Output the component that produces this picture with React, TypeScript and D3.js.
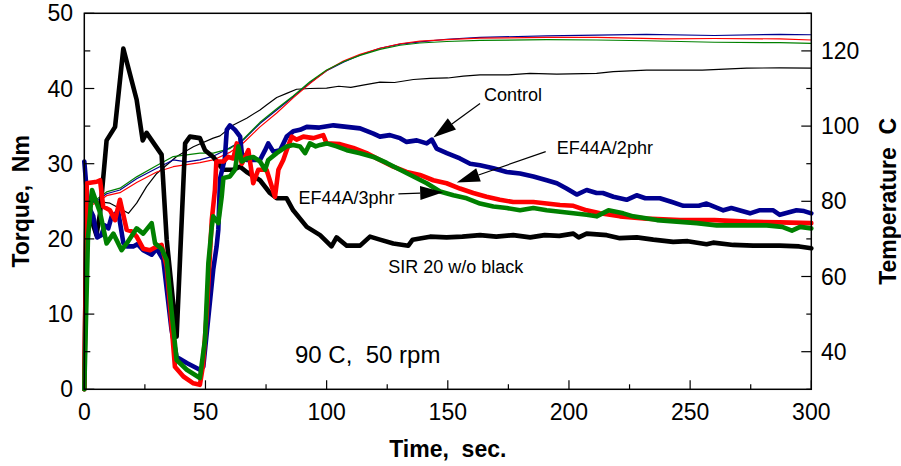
import React from "react";
import * as d3 from "d3";

// ---- data: [time (s), value] ----
const timeTicks = [0, 50, 100, 150, 200, 250, 300];
const torqueTicks = [0, 10, 20, 30, 40, 50];
const tempTicks = [40, 60, 80, 100, 120];

// Torque (Nm), thick lines
const torqueSIR: [number, number][] = [
  [0, 0], [1, 26], [3, 22.5], [5, 20.5], [6.5, 23.4], [9.2, 33.1], [12.7, 34.9], [16.1, 45.3],
  [21.6, 38.5], [24.1, 33.1], [25.7, 34.1], [31.9, 31.2], [34, 19.9], [38.1, 7.0], [40.2, 22.5],
  [41.6, 32.7], [43.6, 33.6], [47.7, 33.4], [49.8, 31.8], [53.2, 30.9], [57.3, 29.2], [61.5, 29.2],
  [64.3, 29.6], [67, 28.9], [72.5, 27.8], [76.6, 26.1], [79.4, 25.4], [83.5, 25.4], [86.2, 23.8],
  [91.8, 21.6], [97.3, 20.5], [102, 19.0], [104.1, 20.2], [108.3, 19.1], [113.8, 19.1], [117.9, 20.3],
  [122, 19.9], [127.5, 19.4], [133.7, 19.1], [135.5, 19.9], [142.7, 20.3], [149.5, 20.2], [156, 20.3],
  [163.3, 20.5], [170, 20.3], [177, 20.5], [184, 20.2], [190, 20.5], [196, 20.4], [201.8, 20.7],
  [204, 20.2], [207.3, 20.7], [215.6, 20.5], [221, 20.1], [228, 20.2], [234.8, 19.9], [243, 19.6],
  [249, 19.7], [256.8, 19.3], [259.5, 19.5], [267.8, 19.2], [276, 19.1], [287, 19.1], [295, 19.0],
  [300, 18.75],
];
const torqueControl: [number, number][] = [
  [0, 30.3], [1.5, 24.5], [3.7, 23], [5.3, 20.2], [7, 20.5], [8.5, 21.8], [9.9, 21.4], [11.3, 23],
  [14, 23.6], [16.1, 19.5], [17.5, 19.0], [20.2, 19.0], [22, 19.3], [24.3, 18.5], [27.8, 17.9],
  [29.9, 18.7], [32.6, 17.2], [36, 7.9], [38.1, 4.3], [42.3, 3.5], [47.7, 2.6], [49.1, 3.0],
  [53.2, 15.9], [54.6, 19.0], [55.3, 21.2], [56, 28], [58, 30.7], [58.8, 34.5], [60.1, 35.1],
  [62.2, 34.5], [64.3, 33.6], [65, 31.4], [67, 30.5], [72.5, 30.5], [74.6, 31.8], [75.9, 32.7],
  [78, 31.6], [80.8, 31.8], [83.5, 33.6], [86.2, 34.3], [89, 34.5], [91.8, 34.9], [97, 34.8],
  [102.8, 35.1], [108.3, 34.9], [113.8, 34.7], [119.3, 34.0], [122, 33.6], [126.1, 33.8],
  [130.3, 33.4], [133, 32.9], [137.2, 33.1], [141.3, 32.7], [143.4, 33.2], [145.4, 32.0],
  [149.6, 31.4], [155, 30.7], [159.2, 30.0], [163.3, 29.8], [168.8, 29.4], [174.3, 28.9],
  [179.8, 28.7], [185.3, 28.3], [190.8, 27.8], [195, 27.4], [199, 26.7], [203.2, 25.9],
  [207.3, 26.5], [211.4, 26.1], [214, 26.1], [218.3, 25.6], [223.8, 25.2], [227.9, 25.8],
  [231.5, 25.4], [237.5, 25.4], [242.5, 24.9], [247.2, 24.4], [253.6, 24.4], [256.8, 24.7],
  [263.7, 23.8], [267, 24.1], [274.7, 23.4], [278.5, 23.8], [284.3, 23.8], [287, 23.2],
  [293.9, 23.8], [297, 23.7], [300, 23.4],
];
const torqueEF2: [number, number][] = [
  [0, 0], [1, 27.4], [5.1, 27.6], [6.5, 27.8], [7.8, 24.3], [10.6, 23.8], [12.7, 22.5], [14.7, 25.2],
  [17.5, 21.2], [19.6, 21.0], [21.6, 20.3], [24.3, 18.7], [27.1, 18.5], [29.9, 19.0], [31.9, 19.2],
  [34, 16.3], [35.4, 11], [37.4, 3.0], [40.9, 1.7], [45, 0.8], [47.7, 0.6], [48.9, 3], [50.5, 10],
  [52.6, 22.5], [53.9, 26.5], [54.5, 30.3], [57.4, 30.3], [59.4, 30.9], [61.5, 30.7], [62.9, 32.7],
  [65, 30.0], [67.7, 31.8], [69.7, 27.4], [71.8, 29.2], [75.2, 29.2], [78.7, 25.6], [80.1, 29.2],
  [82.1, 30.5], [83.5, 31.8], [85.6, 33.6], [87.6, 33.2], [90.4, 33.6], [94.5, 33.4], [98.6, 33.8],
  [100, 32.7], [105.5, 32.6], [111, 32.1], [116.5, 31.4], [122, 30.5], [127.5, 29.6], [133, 28.9],
  [138.5, 28.5], [144, 27.8], [149.5, 27.4], [155, 26.7], [160.5, 26.1], [166, 25.6], [171.5, 25.2],
  [177, 24.9], [185.3, 24.9], [190.8, 24.7], [196.3, 24.5], [201.8, 24.4], [207.3, 23.8],
  [212.8, 23.4], [221, 23.0], [232, 22.7], [245.8, 22.5], [260, 22.5], [273.3, 22.3], [287, 22.2],
  [300, 22.1],
];
const torqueEF3: [number, number][] = [
  [0, 0], [1.5, 20], [3.2, 26.5], [6.5, 23.5], [9.2, 19.4], [12, 20.7], [15.4, 18.5], [17.5, 19.4],
  [21.6, 21.4], [24.3, 20.7], [27.8, 22.1], [29.2, 19.4], [31.9, 18.7], [34, 17.2], [36.1, 10.1],
  [38.1, 3.9], [42.3, 2.6], [47.7, 1.5], [49.8, 6.6], [51.2, 16.8], [52.6, 21.6], [53.2, 23],
  [55.3, 22.1], [56.7, 25.6], [57.4, 28.1], [60.1, 28.3], [62.2, 29.2], [63.6, 32.3], [65, 30.3],
  [67, 30.7], [69.7, 30.9], [72.5, 30.3], [74.6, 29.2], [75.9, 30.5], [79.4, 31.4], [83.5, 32.3],
  [86.2, 32.5], [89, 32.3], [91.1, 31.4], [93.1, 32.7], [95.5, 32.3], [97.3, 32.5], [100, 32.7],
  [104.1, 32.3], [108.3, 31.8], [113.8, 31.4], [119.3, 30.9], [124.8, 30.1], [130.3, 29.2],
  [135.8, 28.3], [141.3, 27.4], [146.8, 26.3], [152.3, 25.8], [157.8, 25.4], [163.3, 24.7],
  [168.8, 24.3], [174.3, 24.1], [179.8, 23.8], [185.3, 24.1], [190.8, 23.8], [196.3, 23.6],
  [201.8, 23.4], [207.3, 23.2], [211.4, 23.0], [216.3, 23.8], [222.4, 23.4], [226.5, 23.0],
  [236.3, 22.5], [244.5, 22.3], [252.8, 22.1], [261, 21.8], [272, 21.8], [281.6, 21.8], [288, 21.6],
  [292, 21.1], [295.4, 21.6], [300, 21.4],
];

// Temperature (C), thin lines
const tempSIR: [number, number][] = [
  [0, 79], [5, 80], [10.6, 79.5], [14.7, 78.1], [18.2, 76.8], [21.6, 79.5], [25.7, 83.9], [29.9, 87.4],
  [38.1, 91.9], [45, 94.5], [53.2, 96.8], [56, 97.4], [61.5, 100.3], [67, 102.1], [72.5, 104.3],
  [75.2, 105.6], [79.4, 107.6], [83.5, 108.7], [87.6, 109.8], [93, 110], [100, 110.1], [105, 110.6],
  [110, 110.3], [115, 110.9], [122, 111.7], [128, 111.6], [135.8, 112.4], [142.7, 112.7], [150, 112.8],
  [156.4, 113.3], [163.3, 113.6], [175, 113.6], [183.9, 114.0], [195, 113.8], [211.4, 114.0],
  [218.3, 114.5], [232, 114.9], [255, 114.9], [273.3, 115.4], [287, 115.5], [300, 115.4],
];
const tempControl: [number, number][] = [
  [0, 79], [3, 80], [5.1, 80], [9.2, 82], [14.7, 83], [21.6, 86], [29.9, 88.8], [36.7, 91],
  [42.3, 90.5], [47.7, 91], [53.2, 92], [58, 93.5], [65.6, 96.3], [72.5, 100.7], [79.4, 104.3],
  [86.2, 107.8], [93.1, 111.5], [100, 114.7], [106.9, 117], [113.8, 118.9], [122, 120.7],
  [130.3, 121.8], [138.5, 122.4], [149.5, 123.1], [163.3, 123.6], [190.8, 124.0], [211.4, 124.2],
  [232, 124.4], [260, 124.1], [287, 124.4], [300, 124.3],
];
const tempEF2: [number, number][] = [
  [0, 78.5], [5, 79.5], [9.2, 81.5], [14.7, 82.3], [21.6, 85], [29.9, 87.8], [36.7, 89.2],
  [47.7, 90.3], [53.2, 91], [60, 93], [65.6, 95.5], [72.5, 99.8], [79.4, 103.5], [86.2, 107.5],
  [93.1, 111.3], [100, 114.8], [106.9, 117.3], [113.8, 119.1], [122, 120.7], [130.3, 121.9],
  [138.5, 122.6], [149.5, 123.0], [163.3, 123.4], [190.8, 123.6], [211.4, 123.6], [240, 123.2],
  [260, 123.3], [287, 123.2], [300, 122.9],
];
const tempEF3: [number, number][] = [
  [0, 79.5], [5, 80.5], [9.2, 82.5], [14.7, 83.5], [21.6, 86.5], [29.9, 89.5], [36.7, 91.9],
  [47.7, 92.8], [53.2, 92.8], [60, 94], [65.6, 96.5], [72.5, 101], [79.4, 104.6], [86.2, 108],
  [93.1, 111.8], [100, 114.9], [106.9, 117.1], [113.8, 118.8], [122, 120.4], [130.3, 121.5],
  [138.5, 122.1], [149.5, 122.5], [163.3, 122.8], [190.8, 123.0], [211.4, 122.9], [232, 122.7],
  [260, 122.3], [287, 122.2], [300, 122.0],
];

const BLACK = "#000000";
const BLUE = "#000090";
const RED = "#ff0000";
const GREEN = "#008000";

const FONT = "'Liberation Sans', Arial, sans-serif";

const W = 901;
const H = 466;
const x = d3.scaleLinear().domain([0, 300]).range([84.3, 811.3]);
const yL = d3.scaleLinear().domain([0, 50]).range([389.3, 13.3]);
const yR = d3.scaleLinear().domain([30, 130]).range([389.3, 13.3]);

const torqueLine = d3.line<[number, number]>().x((d) => x(d[0])).y((d) => yL(d[1]));
const tempLine = d3.line<[number, number]>().x((d) => x(d[0])).y((d) => yR(d[1]));

// annotations in data coordinates (time, torque)
const arrows: { from: [number, number]; to: [number, number] }[] = [
  { from: [163.3, 38.0], to: [144.0, 33.5] },
  { from: [190.4, 31.6], to: [153.7, 27.5] },
  { from: [129.6, 26.0], to: [148.1, 26.2] },
];
const labels: { text: string; at: [number, number] }[] = [
  { text: "Control", at: [164.9, 38.4] },
  { text: "EF44A/2phr", at: [195.0, 31.3] },
  { text: "EF44A/3phr", at: [88.4, 24.6] },
  { text: "SIR 20 w/o black", at: [125.4, 15.4] },
];

const pre = { whiteSpace: "pre" as const };

function Arrow({ from, to }: { from: [number, number]; to: [number, number] }) {
  const x1 = x(from[0]), y1 = yL(from[1]);
  const x2 = x(to[0]), y2 = yL(to[1]);
  const dx = x2 - x1, dy = y2 - y1;
  const len = Math.hypot(dx, dy);
  const ux = dx / len, uy = dy / len;
  const hl = 23, hw = 7;
  const bx = x2 - ux * hl, by = y2 - uy * hl;
  const pts = [
    [x2, y2],
    [bx - uy * hw, by + ux * hw],
    [bx + uy * hw, by - ux * hw],
  ];
  return (
    <g>
      <line x1={x1} y1={y1} x2={bx} y2={by} stroke="#000" strokeWidth={1.2} />
      <polygon points={pts.map((p) => p.join(",")).join(" ")} fill="#000" />
    </g>
  );
}

export default function App() {
  const left = x(0), right = x(300), top = yL(50), bottom = yL(0);
  const xMinor = d3.range(0, 301, 25);
  const yMinor = d3.range(0, 51, 5);
  const rMinor = d3.range(30, 131, 10);
  return (
    <svg width={W} height={H} style={{ position: "absolute", left: 0, top: 0, background: "#fff" }}
      fontFamily={FONT}>
      <rect x={0} y={0} width={W} height={H} fill="#fff" />
      {/* thin temperature lines */}
      <g fill="none" strokeWidth={1.2} strokeLinejoin="round">
        <path d={tempLine(tempSIR) || ""} stroke={BLACK} />
        <path d={tempLine(tempControl) || ""} stroke={BLUE} />
        <path d={tempLine(tempEF2) || ""} stroke={RED} />
        <path d={tempLine(tempEF3) || ""} stroke={GREEN} />
      </g>
      {/* thick torque lines */}
      <g fill="none" strokeWidth={4.6} strokeLinejoin="round" strokeLinecap="round">
        <path d={torqueLine(torqueSIR) || ""} stroke={BLACK} />
        <path d={torqueLine(torqueControl) || ""} stroke={BLUE} />
        <path d={torqueLine(torqueEF2) || ""} stroke={RED} />
        <path d={torqueLine(torqueEF3) || ""} stroke={GREEN} />
      </g>
      {/* frame */}
      <rect x={left} y={top} width={right - left} height={bottom - top} fill="none" stroke="#000" strokeWidth={1.5} />
      {/* x ticks */}
      {xMinor.map((t) => (
        <line key={"xt" + t} x1={x(t)} x2={x(t)} y1={bottom} y2={bottom - (t % 50 === 0 ? 9 : 5)} stroke="#000" strokeWidth={1.2} />
      ))}
      {timeTicks.map((t) => (
        <text key={"xl" + t} x={x(t)} y={420} fontSize={23} textAnchor="middle">{t}</text>
      ))}
      {/* left ticks */}
      {yMinor.map((v) => (
        <line key={"yt" + v} x1={left} x2={left + (v % 10 === 0 ? 10 : 6)} y1={yL(v)} y2={yL(v)} stroke="#000" strokeWidth={1.2} />
      ))}
      {torqueTicks.map((v) => (
        <text key={"yl" + v} x={73} y={yL(v) + 8} fontSize={23} textAnchor="end">{v}</text>
      ))}
      {/* right ticks */}
      {rMinor.map((v) => (
        <line key={"rt" + v} x1={right} x2={right - (v % 20 === 0 ? 10 : 5)} y1={yR(v)} y2={yR(v)} stroke="#000" strokeWidth={1.2} />
      ))}
      {tempTicks.map((v) => (
        <text key={"rl" + v} x={821} y={yR(v) + 8} fontSize={23} textAnchor="start">{v}</text>
      ))}
      {/* axis titles */}
      <text x={(left + right) / 2} y={457} fontSize={23} fontWeight="bold" textAnchor="middle" style={pre}>{"Time,  sec."}</text>
      <text transform={`translate(29,${(top + bottom) / 2}) rotate(-90)`} fontSize={23} fontWeight="bold" textAnchor="middle" style={pre}>{"Torque,  Nm"}</text>
      <text transform={`translate(896,${(top + bottom) / 2}) rotate(-90)`} fontSize={23} fontWeight="bold" textAnchor="middle" style={pre}>{"Temperature  C"}</text>
      {/* condition note */}
      <text x={295} y={363} fontSize={24} style={pre}>{"90 C,  50 rpm"}</text>
      {/* annotations */}
      {arrows.map((a, i) => <Arrow key={"ar" + i} from={a.from} to={a.to} />)}
      {labels.map((l) => (
        <text key={l.text} x={x(l.at[0])} y={yL(l.at[1])} fontSize={18}>{l.text}</text>
      ))}
    </svg>
  );
}
